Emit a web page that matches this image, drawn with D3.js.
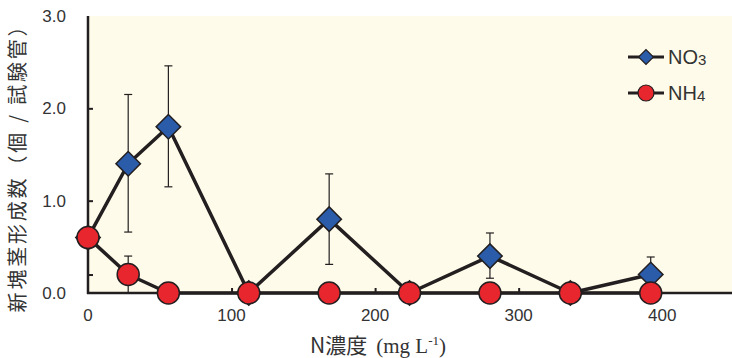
<!DOCTYPE html>
<html>
<head>
<meta charset="utf-8">
<script src="https://cdnjs.cloudflare.com/ajax/libs/d3/7.8.5/d3.min.js"></script>
<style>
  body { margin: 0; background: #fff; }
  svg { display: block; }
  text { font-family: "Liberation Sans Narrow", "Liberation Sans", Arial, sans-serif; fill: #333; }
</style>
</head>
<body>
<div id="chart"></div>
<script>
// N concentration (mg L-1)
var conc = [0, 28, 56, 112, 168, 224, 280, 336, 392];
var no3 = [0.6, 1.4, 1.8, 0, 0.8, 0, 0.4, 0, 0.2];
var no3Lo = [null, 0.66, 1.15, null, 0.31, null, 0.16, null, 0.0];
var no3Hi = [null, 2.15, 2.46, null, 1.29, null, 0.65, null, 0.39];
var nh4 = [0.6, 0.2, 0, 0, 0, 0, 0, 0, 0];
var nh4Lo = [null, 0.0, null, null, null, null, null, null, null];
var nh4Hi = [null, 0.4, null, null, null, null, null, null, null];
var yTicks = [0, 1, 2, 3];
var xTicks = [0, 100, 200, 300, 400];

var width = 732, height = 358;
var plotLeft = 88, plotTop = 16, plotBottom = 293;

var svg = d3.select('#chart').append('svg')
  .attr('width', width)
  .attr('height', height);

var x = d3.scaleLinear().domain([0, 450]).range([plotLeft, plotLeft + 1.4355 * 450]);
var y = d3.scaleLinear().domain([0, 3]).range([plotBottom, plotTop]);

// plot background
svg.append('rect')
  .attr('x', plotLeft).attr('y', plotTop)
  .attr('width', width - plotLeft).attr('height', plotBottom - plotTop)
  .attr('fill', '#fefbea');

// axes
var yAxis = d3.axisLeft(y).tickValues([0.2, 1, 2]).tickSize(-5).tickFormat('');
svg.append('g').attr('transform', 'translate(' + plotLeft + ',0)').call(yAxis)
  .call(function(g) {
    g.select('.domain').remove();
    g.selectAll('line').attr('stroke', '#231f20').attr('stroke-width', 2);
  });
var xAxis = d3.axisBottom(x).tickValues([100, 200, 300]).tickSize(-5).tickFormat('');
svg.append('g').attr('transform', 'translate(0,' + plotBottom + ')').call(xAxis)
  .call(function(g) {
    g.select('.domain').remove();
    g.selectAll('line').attr('stroke', '#231f20').attr('stroke-width', 2);
  });

svg.append('line')
  .attr('x1', plotLeft).attr('x2', plotLeft)
  .attr('y1', plotTop).attr('y2', plotBottom + 1)
  .attr('stroke', '#231f20').attr('stroke-width', 2.5);
svg.append('line')
  .attr('x1', plotLeft - 1).attr('x2', width)
  .attr('y1', plotBottom).attr('y2', plotBottom)
  .attr('stroke', '#231f20').attr('stroke-width', 2.5);

// tick labels
svg.selectAll('.ylab').data(yTicks).enter().append('text')
  .attr('class', 'ylab')
  .attr('x', 66).attr('y', function(d) { return y(d) + 6; })
  .attr('text-anchor', 'end')
  .style('font-size', '17px')
  .text(function(d) { return d.toFixed(1); });

svg.selectAll('.xlab').data(xTicks).enter().append('text')
  .attr('class', 'xlab')
  .attr('x', function(d) { return x(d); }).attr('y', 321)
  .attr('text-anchor', 'middle')
  .style('font-size', '17px')
  .text(function(d) { return d; });

// axis titles
svg.append('text')
  .attr('transform', 'translate(25,' + 163 + ') rotate(-90)')
  .attr('text-anchor', 'middle')
  .style('font-size', '20px')
  .style('letter-spacing', '2.8px')
  .style('font-family', '"Noto Sans CJK JP", sans-serif')
  .text('新塊茎形成数（個 / 試験管）');

var xt = svg.append('text')
  .attr('x', 378).attr('y', 353)
  .attr('text-anchor', 'middle')
  .style('font-size', '21px');
xt.append('tspan').style('font-family', '"Noto Sans CJK JP", sans-serif').text('N濃度');
xt.append('tspan').style('font-family', '"Liberation Serif", serif').attr('dx', 9).text('(mg L');
xt.append('tspan').style('font-family', '"Liberation Serif", serif').style('font-size', '13px').attr('dy', -8).text('-1');
xt.append('tspan').style('font-family', '"Liberation Serif", serif').attr('dy', 8).text(')');

// error bars
function errorBars(lo, hi) {
  var idx = conc.map(function(d, i) { return i; }).filter(function(i) { return lo[i] !== null; });
  var g = svg.append('g').attr('stroke', '#231f20').attr('stroke-width', 1.2);
  idx.forEach(function(i) {
    var cx = x(conc[i]);
    g.append('line').attr('x1', cx).attr('x2', cx).attr('y1', y(lo[i])).attr('y2', y(hi[i]));
    g.append('line').attr('x1', cx - 4).attr('x2', cx + 4).attr('y1', y(lo[i])).attr('y2', y(lo[i]));
    g.append('line').attr('x1', cx - 4).attr('x2', cx + 4).attr('y1', y(hi[i])).attr('y2', y(hi[i]));
  });
}
errorBars(no3Lo, no3Hi);
errorBars(nh4Lo, nh4Hi);

var line = d3.line()
  .x(function(d, i) { return x(conc[i]); })
  .y(function(d) { return y(d); });

var diamond = d3.symbol().type(d3.symbolSquare).size(300);

// NO3 series
svg.append('path').datum(no3)
  .attr('d', line).attr('fill', 'none')
  .attr('stroke', '#231f20').attr('stroke-width', 3.5).attr('stroke-linejoin', 'round');
svg.selectAll('.no3').data(no3).enter().append('path')
  .attr('class', 'no3')
  .attr('d', diamond)
  .attr('transform', function(d, i) { return 'translate(' + x(conc[i]) + ',' + y(d) + ') rotate(45)'; })
  .attr('fill', '#2a5caa').attr('stroke', '#231f20').attr('stroke-width', 1.5);

// NH4 series
svg.append('path').datum(nh4)
  .attr('d', line).attr('fill', 'none')
  .attr('stroke', '#231f20').attr('stroke-width', 3.5).attr('stroke-linejoin', 'round');
svg.selectAll('.nh4').data(nh4).enter().append('circle')
  .attr('class', 'nh4')
  .attr('cx', function(d, i) { return x(conc[i]); })
  .attr('cy', function(d) { return y(d); })
  .attr('r', 11)
  .attr('fill', '#e8262e').attr('stroke', '#231f20').attr('stroke-width', 1.5);

// legend
var legend = [
  { name: 'NO', sub: '3', type: 'diamond', y: 57 },
  { name: 'NH', sub: '4', type: 'circle', y: 93 }
];
var lg = svg.selectAll('.legend').data(legend).enter().append('g')
  .attr('class', 'legend')
  .attr('transform', function(d) { return 'translate(646,' + d.y + ')'; });
lg.append('line').attr('x1', -18).attr('x2', 18)
  .attr('stroke', '#231f20').attr('stroke-width', 3);
lg.each(function(d) {
  var g = d3.select(this);
  if (d.type === 'diamond') {
    g.append('path').attr('d', d3.symbol().type(d3.symbolSquare).size(110))
      .attr('transform', 'rotate(45)')
      .attr('fill', '#2a5caa').attr('stroke', '#231f20').attr('stroke-width', 1.2);
  } else {
    g.append('circle').attr('r', 8)
      .attr('fill', '#e8262e').attr('stroke', '#231f20').attr('stroke-width', 1.2);
  }
  var t = g.append('text').attr('x', 22).attr('y', 7).style('font-size', '20px')
    .style('font-family', '"Liberation Sans", Arial, sans-serif');
  t.append('tspan').text(d.name);
  t.append('tspan').style('font-size', '15px').attr('dy', 1).text(d.sub);
});
</script>
</body>
</html>
